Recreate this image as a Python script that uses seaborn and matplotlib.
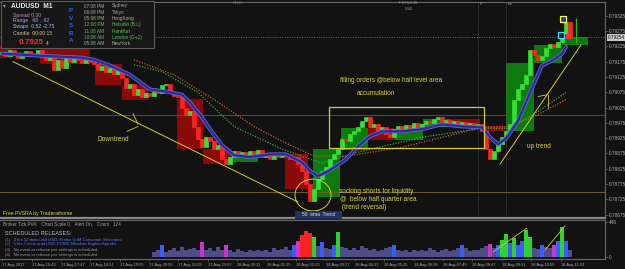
import matplotlib
matplotlib.use("Agg")
import matplotlib.pyplot as plt
from matplotlib.patches import Rectangle, Ellipse
import matplotlib.transforms as mtransforms
import pandas as pd
import seaborn as sns

# ---------------- data ----------------
closes = [0.79207, 0.79194, 0.79214, 0.79201, 0.79188, 0.79204, 0.79210, 0.79194, 0.79201, 0.79214,
          0.79197, 0.79181, 0.79191, 0.79149, 0.79181, 0.79155, 0.79188, 0.79175, 0.79194, 0.79181,
          0.79171, 0.79188, 0.79175, 0.79168, 0.79149, 0.79162, 0.79142, 0.79155, 0.79136, 0.79149,
          0.79123, 0.79090, 0.79103, 0.79067, 0.79084, 0.79058, 0.79071, 0.79064, 0.79077, 0.79071,
          0.79100, 0.79103, 0.79077, 0.79064, 0.79058, 0.79025, 0.79002, 0.79012, 0.78960, 0.78921,
          0.78895, 0.78928, 0.78915, 0.78889, 0.78902, 0.78856, 0.78840, 0.78863, 0.78882, 0.78866,
          0.78879, 0.78869, 0.78882, 0.78872, 0.78885, 0.78863, 0.78876, 0.78856, 0.78869, 0.78863,
          0.78872, 0.78866, 0.78856, 0.78863, 0.78840, 0.78817, 0.78775, 0.78720, 0.78759, 0.78791,
          0.78817, 0.78830, 0.78856, 0.78872, 0.78889, 0.78921, 0.78915, 0.78937, 0.78947, 0.78960,
          0.78980, 0.78993, 0.78960, 0.78970, 0.78947, 0.78960, 0.78937, 0.78928, 0.78954, 0.78963,
          0.78954, 0.78967, 0.78957, 0.78973, 0.78960, 0.78970, 0.78980, 0.78973, 0.78986, 0.78993,
          0.78973, 0.78983, 0.78967, 0.78980, 0.78963, 0.78976, 0.78967, 0.78973, 0.78960, 0.78970,
          0.78947, 0.78889, 0.78856, 0.78882, 0.78905, 0.78928, 0.78947, 0.78970, 0.79051, 0.79084,
          0.79103, 0.79132, 0.79214, 0.79197, 0.79181, 0.79194, 0.79220, 0.79233, 0.79223, 0.79240,
          0.79266, 0.79305, 0.79256]
first_open = 0.79201

ema_idx = [0, 10, 20, 23, 27, 32, 37, 41, 45, 47, 50, 52, 55, 58, 62, 67, 71, 75, 77, 79, 82, 86,
           89, 92, 95, 100, 105, 110, 115, 120, 122, 124, 126, 129, 132, 135, 138, 140, 141]
ema_val = [0.79201, 0.79194, 0.79188, 0.79181, 0.79162, 0.79132, 0.79084, 0.79077, 0.79067, 0.79041,
           0.78993, 0.78954, 0.78902, 0.78869, 0.78863, 0.78872, 0.78872, 0.78846, 0.78817, 0.78801,
           0.78820, 0.78856, 0.78898, 0.78931, 0.78947, 0.78947, 0.78954, 0.78970, 0.78963, 0.78960,
           0.78928, 0.78905, 0.78924, 0.78980, 0.79074, 0.79162, 0.79181, 0.79201, 0.79223]

ma_slow_idx = [33, 43, 53, 63, 70, 78, 86, 100, 112, 120, 127, 134, 141]
ma_slow_val = [0.79181, 0.79132, 0.79051, 0.78963, 0.78915, 0.78866, 0.78866, 0.78895, 0.78934,
               0.78960, 0.78963, 0.79002, 0.79051]
ma_mid_idx = [33, 40, 49, 58, 70, 80, 89, 105, 120, 127, 134, 141]
ma_mid_val = [0.79165, 0.79142, 0.79074, 0.78963, 0.78889, 0.78843, 0.78879, 0.78928, 0.78957,
              0.78957, 0.79012, 0.79074]

vol_start = 38
volumes = [60, 95, 150, 70, 85, 110, 75, 130, 95, 100, 120, 85, 190,
           90, 110, 75, 130, 95, 160, 85, 70, 100, 80, 65, 90, 75, 85,
           80, 95, 70, 110, 85, 100, 130, 90, 150, 200, 280, 330,
           310, 260, 140, 190, 120, 100, 150, 320, 130, 110, 95, 120, 90, 140, 110, 85,
           100, 75, 90, 110, 130, 150, 95, 80, 90, 70, 85, 75, 95, 80, 110, 90, 70, 85,
           100, 75, 90, 110, 160, 120, 80, 95, 85, 110, 140, 170, 120, 150, 220, 300,
           180, 240, 150, 200, 350, 250, 120, 100, 150, 130, 110, 160, 210, 380, 200, 90]

zone_x0 = [-0.5, 9.5, 23.25, 30.0, 43.75, 50.25, 57.5, 70.75, 77.75, 84.75, 91.5, 98.25, 105.25,
           112.0, 119.5, 126.0, 133.0, 140.0]
zone_x1 = [2.5, 22.0, 30.0, 36.5, 50.25, 57.5, 64.0, 76.5, 84.5, 91.5, 98.25, 105.25, 112.0,
           119.5, 125.75, 133.0, 140.0, 146.5]
zone_top = [0.79227, 0.79220, 0.79168, 0.79097, 0.79054, 0.78889, 0.78876, 0.78872, 0.78889,
            0.78957, 0.78957, 0.78950, 0.78986, 0.78986, 0.78963, 0.79171, 0.79230, 0.79256]
zone_bot = [0.79188, 0.79168, 0.79097, 0.79051, 0.78889, 0.78840, 0.78846, 0.78759, 0.78733,
            0.78885, 0.78918, 0.78918, 0.78960, 0.78970, 0.78947, 0.78947, 0.79171, 0.79230]
zone_kind = ["bear", "bear", "bear", "bear", "bear", "bear", "bull", "bear", "bull",
             "bull", "bear", "bull", "bull", "bear", "bear", "bull", "bull", "bull"]

price_ticks = [0.79325, 0.79275, 0.79225, 0.79175, 0.79125, 0.79075, 0.79025, 0.78975,
               0.78925, 0.78875, 0.78825, 0.78775, 0.78725, 0.78675]
current_price = 0.79254
level_round = 0.79000
level_quarter = 0.78750

time_pos = [0, 7.4, 14.7, 22.1, 29.4, 36.8, 44.1, 51.5, 58.8, 66.2, 73.5, 80.9, 88.2, 95.6,
            102.9, 110.3, 117.6, 125.0, 132.3, 139.7]
time_labels = ["17 Aug 2017", "17 Aug 16:43", "17 Aug 17:47", "17 Aug 18:51", "17 Aug 19:55",
               "17 Aug 20:59", "17 Aug 22:03", "17 Aug 23:07", "18 Aug 00:11", "18 Aug 01:15",
               "18 Aug 02:23", "18 Aug 03:27", "18 Aug 04:31", "18 Aug 05:35", "18 Aug 06:39",
               "18 Aug 07:43", "18 Aug 08:47", "18 Aug 09:51", "18 Aug 10:55", "18 Aug 11:59"]

down_trend_idx = [2.75, 74.0]
down_trend_val = [0.79175, 0.78716]
up_trend_idx = [124.5, 144.75]
up_trend_val = [0.78840, 0.79230]
vol_line1_idx = [122.75, 131.25]
vol_line1_val = [64, 371]
vol_line2_idx = [135.75, 140.75]
vol_line2_val = [90, 397]

session_times = ["07:08 PM", "06:08 PM", "05:08 PM", "12:08 PM", "11:08 AM", "10:08 AM", "05:08 AM"]
session_names = ["Sydney", "Tokyo", "HongKong", "Helsinki (B.L)", "Frankfurt", "London (G+1)", "NewYork"]
session_open = [False, False, False, True, True, True, False]

# ---------------- style ----------------
BG = "#121212"
sns.set_theme(style="dark", rc={"axes.facecolor": BG, "figure.facecolor": BG})
plt.rcParams["font.family"] = ["Liberation Sans", "DejaVu Sans"]

W, H = 625, 269
fig = plt.figure(figsize=(W / 100, H / 100), dpi=100)


def fx(x):
    return x / W


def fy(y):
    return 1 - y / H


ax = fig.add_axes([0, fy(218), fx(605), (218 - 2) / H])
axv = fig.add_axes([0, fy(259), fx(605), (259 - 220) / H])
for a in (ax, axv):
    a.set_facecolor(BG)
    a.set_xlim(-0.5, 150.75)
    for s in a.spines.values():
        s.set_color("#6a6a6a")
        s.set_linewidth(0.8)
    a.spines["left"].set_visible(False)
    a.grid(False)
ax.spines["bottom"].set_color("#8a8a8a")
ax.spines["bottom"].set_linewidth(1.6)
ax.set_ylim(0.786639, 0.793698)

YEL = "#d2cc3a"

# zones
for x0, x1, t, b, k in zip(zone_x0, zone_x1, zone_top, zone_bot, zone_kind):
    ax.add_patch(Rectangle((x0, b), x1 - x0, t - b,
                           facecolor="#0d7a0d" if k == "bull" else "#8a0909",
                           edgecolor="none", zorder=1))

# horizontal levels
ax.axhline(level_round, color="#2b4fa8", lw=0.7, zorder=1.5)
ax.axhline(level_quarter, color="#6b5a2c", lw=0.7, zorder=1.5)
ax.axhline(current_price, color="#707070", lw=0.7, ls=(0, (1, 1.5)), zorder=1.5)
for vx in (119, 126):
    ax.axvline(vx, color="#5a5a5a", lw=0.6, ls=(0, (1, 1.5)), zorder=1.5)

# slow moving averages (dotted)
df_slow = pd.DataFrame({"idx": ma_slow_idx, "price": ma_slow_val})
df_mid = pd.DataFrame({"idx": ma_mid_idx, "price": ma_mid_val})
sns.lineplot(data=df_slow, x="idx", y="price", ax=ax, color="#c8552e", lw=0.9,
             linestyle=(0, (1, 1.2)), zorder=2)
sns.lineplot(data=df_mid, x="idx", y="price", ax=ax, color="#3aa83a", lw=0.9,
             linestyle=(0, (1, 1.2)), zorder=2)

# candles
opens = [first_open] + closes[:-1]
for i, (o, c) in enumerate(zip(opens, closes)):
    col = "#33e033" if c >= o else "#ff2222"
    ax.bar(i, abs(c - o), bottom=min(o, c), width=0.85, color=col,
           edgecolor=col, linewidth=0.5, zorder=3)
ax.vlines([143.5], [0.79236], [0.79317], color="#1fbf1f", lw=0.9, zorder=3)

# 50 EMA
df_ema = pd.DataFrame({"idx": ema_idx, "price": ema_val})
sns.lineplot(data=df_ema, x="idx", y="price", ax=ax, color="#6767cf", lw=2.8, zorder=4)
sns.lineplot(data=df_ema, x="idx", y="price", ax=ax, color="#2a2a9c", lw=1.6, zorder=4.1)

# markers
ax.scatter([140.25], [0.79314], s=14, marker="s", facecolor="#2030c0", edgecolor="#ffff40", lw=0.9, zorder=6)
ax.scatter([139.75], [0.79262], s=14, marker="s", facecolor="#1a1a1a", edgecolor="#40e0ff", lw=0.9, zorder=6)
ax.scatter([141.5], [0.79259], s=5, marker="s", color="#ff3030", zorder=6)

# trend lines / drawings
ax.plot(down_trend_idx, down_trend_val, color=YEL, lw=0.7, zorder=5)
ax.plot(up_trend_idx, up_trend_val, color=YEL, lw=0.7, zorder=5)
ax.plot([32.75, 34.0], [0.79006, 0.78970], color=YEL, lw=0.6, zorder=5)
ax.plot([31.25, 34.0], [0.78947, 0.78963], color=YEL, lw=0.6, zorder=5)
ax.plot([134.0, 136.5], [0.79061, 0.79067], color=YEL, lw=0.6, zorder=5)
ax.plot([136.5, 136.5], [0.79067, 0.79025], color=YEL, lw=0.6, zorder=5)
ax.add_patch(Rectangle((81.75, 0.78892), 120.5 - 81.75, 0.79028 - 0.78892,
                       fill=False, edgecolor=YEL, lw=0.9, zorder=5))
ax.add_patch(Ellipse((77.75, 0.78739), 9.0, 0.00104, fill=False, edgecolor=YEL, lw=0.7, zorder=5))

ann = dict(color="#dcd43a", fontsize=4.7, va="center", ha="left", zorder=7)
ax.text(23.75, 0.78921, "Downtrend", **ann)
ax.text(84.5, 0.79113, "filling orders @below half level area", **ann)
ax.text(88.75, 0.79071, "accumulation", **ann)
ax.text(131.25, 0.78898, "up trend", **ann)
ax.text(84.25, 0.78749, "sucking shorts for liquidity", **ann)
ax.text(84.5, 0.78723, "@  below half quarter area", **ann)
ax.text(85.0, 0.78697, "(trend reversal)", **ann)

# price axis
ax.yaxis.tick_right()
ax.set_yticks(price_ticks)
ax.set_yticklabels([f"{p:.5f}" for p in price_ticks])
ax.tick_params(axis="y", colors="#6a6a6a", labelcolor="#b0b0b0", labelsize=3.4,
               length=2, width=0.5, pad=1, right=True)
ax.set_xticks([])
ax.set_xlabel("")
ax.set_ylabel("")
trans = mtransforms.blended_transform_factory(ax.transAxes, ax.transData)
ax.text(1.004, current_price, f"{current_price:.5f}", transform=trans, fontsize=3.4,
        color="#101010", va="center", ha="left", zorder=8, clip_on=False,
        bbox=dict(facecolor="#c8c8c8", edgecolor="none", pad=0.6))

# ---------------- volume panel ----------------
vol_idx = list(range(vol_start, vol_start + len(volumes)))
vol_cols = []
for i, v in zip(vol_idx, volumes):
    bull = closes[i] >= opens[i]
    if v >= 220:
        vol_cols.append("#2ed22e" if bull else "#ff2222")
    elif v >= 150:
        vol_cols.append("#3b5cff" if bull else "#d032d0")
    else:
        vol_cols.append("#4e4e86")
axv.bar(vol_idx, volumes, width=0.8, color=vol_cols, linewidth=0, zorder=2)
axv.plot(vol_line1_idx, vol_line1_val, color=YEL, lw=0.6, zorder=3)
axv.plot(vol_line2_idx, vol_line2_val, color=YEL, lw=0.6, zorder=3)
axv.set_ylim(-25.6, 473.6)
axv.yaxis.tick_right()
axv.set_yticks([0, 448])
axv.set_yticklabels(["0", "448"])
axv.tick_params(axis="y", colors="#6a6a6a", labelcolor="#b0b0b0", labelsize=3.4,
                length=2, width=0.5, pad=1, right=True)
axv.set_xticks(time_pos)
axv.set_xticklabels(time_labels, ha="left")
axv.tick_params(axis="x", colors="#6a6a6a", labelcolor="#a8a8a8", labelsize=2.9,
                length=1.5, width=0.5, pad=1.2, bottom=True)
axv.set_xlabel("")
axv.set_ylabel("")

# ---------------- overlay texts ----------------
def ftext(x, y, s, **kw):
    kw.setdefault("fontsize", 3.4)
    kw.setdefault("va", "center")
    kw.setdefault("ha", "left")
    fig.text(fx(x), fy(y), s, zorder=10, **kw)


fig.add_artist(Rectangle((fx(1), fy(48)), fx(153), 47 / H, transform=fig.transFigure,
                         facecolor="#171717", edgecolor="#5c5c5c", lw=0.8, zorder=9))
ftext(3, 6, "▾", color="#a0a0a0", fontsize=4, family=["DejaVu Sans"])
ftext(11, 6, "AUDUSD  M1", color="#f0f0f0", fontsize=4.8, fontweight="bold")
ftext(13, 15, "Spread 0.30", color="#c78cc7", fontsize=3.7)
ftext(13, 20.7, "Range   68 .. 62", color="#8ab4e8", fontsize=3.7)
ftext(13, 26.5, "Swaps  0.52 -2.75", color="#a8c4e4", fontsize=3.7)
ftext(13, 33.3, "Candle  00:00:15", color="#d4c890", fontsize=3.7)
ftext(19, 42.7, "0.7925", color="#ff2a2a", fontsize=5.9, fontweight="bold")
ftext(46, 43.5, "4", color="#d0d0d0", fontsize=3.4)
for k, (ch, yy) in enumerate(zip("PVSRA", [10, 18, 25.5, 33, 40.5])):
    ftext(71, yy, ch, color="#2f5cff", fontsize=4.6, fontweight="bold", ha="center")
for k, (t, n, op) in enumerate(zip(session_times, session_names, session_open)):
    yy = 6 + k * 6.3
    ftext(84, yy, t, color="#5fc05f" if op else "#a8a8a8", fontsize=3.4)
    ftext(112, yy, n, color="#5fc05f" if op else "#a8a8a8", fontsize=3.4)

ftext(233, 3.5, "RDH", color="#8080c0", fontsize=3.2)
ftext(398, 3.5, "T 07:53:30", color="#a0a0a0", fontsize=3.0)
ftext(405, 9, "V:42", color="#a0a0a0", fontsize=3.0)
ftext(480, 4, "F", color="#a0a0a0", fontsize=3.2)
ftext(508, 4, "Lo", color="#a0a0a0", fontsize=3.2)

ftext(3, 214, "Free PVSRA by Traderathome", color="#d6d060", fontsize=3.7)
fig.add_artist(Rectangle((fx(295), fy(218.5)), fx(47), 7.5 / H, transform=fig.transFigure,
                         facecolor="#26325e", edgecolor="none", zorder=9))
ftext(318.5, 214.5, "50  ema  Trend", color="#e0e0e0", fontsize=3.5, ha="center")

ftext(3, 224, "Broker Tick PVA:   Chart Scale 0,   Alert On,   Count   124", color="#a0a0a0", fontsize=3.3)
ftext(5, 233.5, "SCHEDULED RELEASES:", color="#b4b8d0", fontsize=4.0)
ftext(5, 239.5, "(1)   4 hrs 52 mins until USD: Prelim UoM Consumer Sentiment", color="#5a78ff", fontsize=3.1)
ftext(5, 244.5, "(2)   5 hrs 7 mins until USD: FOMC Member Kaplan Speaks", color="#5a78ff", fontsize=3.1)
ftext(5, 249.5, "(3)   No event or release per settings is scheduled", color="#9a9a9a", fontsize=3.1)
ftext(5, 254.8, "(4)   No event or release per settings is scheduled", color="#9a9a9a", fontsize=3.1)

fig.savefig("out.png", dpi=100, facecolor=BG)
